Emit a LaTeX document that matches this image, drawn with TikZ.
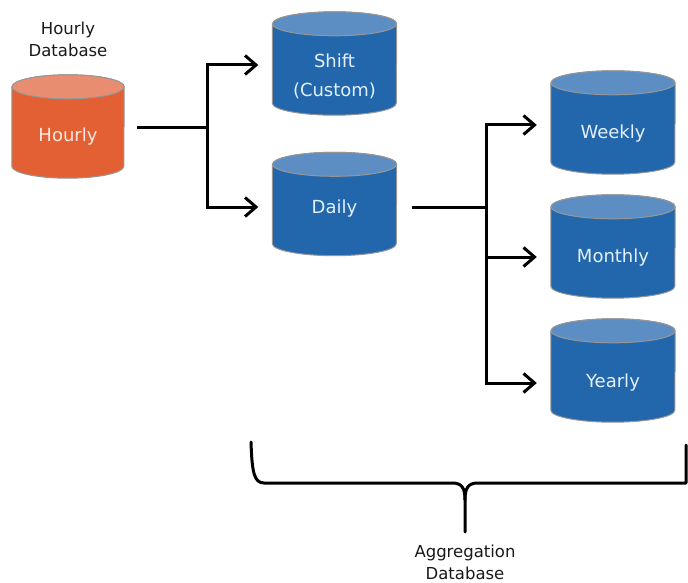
\documentclass[tikz,border=0pt]{standalone}
\usepackage{fontspec}
\setmainfont{DejaVu Sans}
\usetikzlibrary{arrows.meta}

\definecolor{dbblue}{RGB}{34,102,172}
\definecolor{dbbluetop}{RGB}{92,142,196}
\definecolor{dborange}{RGB}{226,96,52}
\definecolor{dborangetop}{RGB}{233,141,112}
\definecolor{dbrim}{RGB}{150,150,150}
\definecolor{dbtxtblue}{RGB}{228,240,252}
\definecolor{dbtxtorange}{RGB}{252,232,222}

\tikzset{
  dbframe/.style={rectangle, inner sep=0pt, minimum height=103pt},
  dbtext/.style={align=center, font=\fontsize{18}{29}\selectfont},
  bluetext/.style={dbtext, text=dbtxtblue},
  orangetext/.style={dbtext, text=dbtxtorange},
  caption/.style={align=center, text=black!90, font=\fontsize{16.5}{22}\selectfont},
  link/.style={line width=3pt, draw=black},
  flow/.style={link, -{Straight Barb[length=11pt, width=19pt, line width=3pt]}},
  brace/.style={line width=3pt, draw=black, line cap=round, line join=round}
}

% database cylinder: name, centre, half width, body colour, top colour, text style, text
\newcommand\dbcyl[7]{%
  \node[dbframe, minimum width=#3*2pt] (#1) at (#2) {};
  \path[draw=dbrim, line width=1pt, fill=#4]
    ([yshift=-12pt]#1.north west) -- ([yshift=12pt]#1.south west)
    arc[start angle=180, end angle=360, x radius=#3pt, y radius=12pt]
    -- ([yshift=-12pt]#1.north east)
    arc[start angle=0, end angle=180, x radius=#3pt, y radius=12pt] -- cycle;
  \path[draw=dbrim, line width=1pt, fill=#5]
    ([yshift=-12pt]#1.north) ellipse[x radius=#3pt, y radius=12pt];
  \node[#6] (#1-t) at (#1.center) {#7};
}

\begin{document}
\begin{tikzpicture}[x=1pt, y=-1pt]
  \useasboundingbox (0,0) rectangle (688,583);

  % databases
  \dbcyl{hourly}{68,126.5}{56}{dborange}{dborangetop}{orangetext, yshift=-10pt}{Hourly}
  \dbcyl{shift}{334.5,63.5}{62}{dbblue}{dbbluetop}{bluetext, yshift=-13pt}{Shift\\(Custom)}
  \dbcyl{daily}{334.5,204}{62}{dbblue}{dbbluetop}{bluetext, yshift=-5pt}{Daily}
  \dbcyl{weekly}{613,122.5}{62}{dbblue}{dbbluetop}{bluetext, yshift=-11pt}{Weekly}
  \dbcyl{monthly}{613,246.5}{62}{dbblue}{dbbluetop}{bluetext, yshift=-11pt}{Monthly}
  \dbcyl{yearly}{613,370.5}{62}{dbblue}{dbbluetop}{bluetext, yshift=-12pt}{Yearly}

  % captions
  \node[caption] (hourlycap) at (68,39) {Hourly\\Database};
  \node[caption, anchor=north] (aggcap) at (465,541) {Aggregation\\Database};

  % hourly -> shift / daily
  \coordinate (j1) at (207,128);
  \draw[link, shorten <=13pt] ([yshift=-1.5pt]hourly.east) -- (j1);
  \draw[flow, shorten >=14pt] (j1) |- ([yshift=-1.5pt]shift.west);
  \draw[flow, shorten >=14pt] (j1) |- ([yshift=-3pt]daily.west);

  % daily -> weekly / monthly / yearly
  \coordinate (j2) at (486,207);
  \draw[link, shorten <=15pt] ([yshift=-3pt]daily.east) -- (j2);
  \draw[flow, shorten >=14pt] (j2) |- ([yshift=-2.5pt]weekly.west);
  \draw[flow, shorten >=14pt] (j2) |- ([yshift=-10.5pt]monthly.west);
  \draw[flow, shorten >=14pt] (j2) |- ([yshift=-12.5pt]yearly.west);

  % brace grouping the aggregation databases
  \coordinate (bl) at (251,442);
  \coordinate (br) at (686,445);
  \coordinate (bm) at (465,500);
  \coordinate (btip) at (465,532);
  \draw[brace] (bl) .. controls (252,472) and (254,483) .. (264,483)
    -- (452,483) .. controls (462,483) and (465,488) .. (bm) -- (btip);
  \draw[brace] (bm) .. controls (465,488) and (468,483) .. (478,483)
    -- (686,483) -- (br);
\end{tikzpicture}
\end{document}
